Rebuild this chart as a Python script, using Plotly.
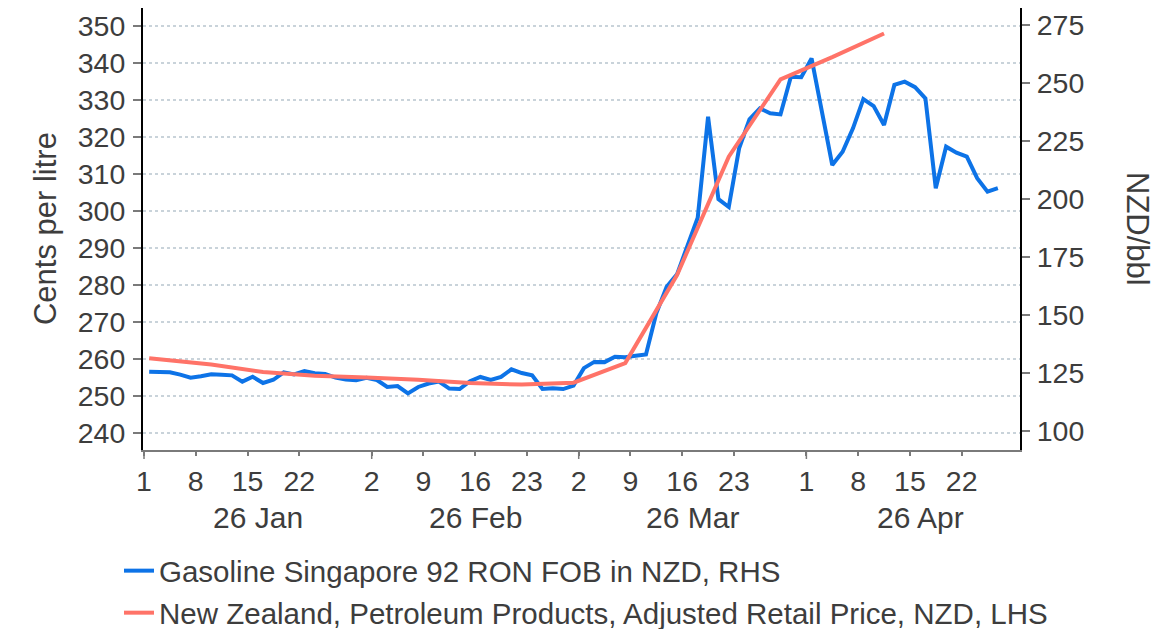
import pandas as pd
import plotly.graph_objects as go

# ---------------- data ----------------
blue_name = "Gasoline Singapore 92 RON FOB in NZD, RHS"
red_name = "New Zealand, Petroleum Products, Adjusted Retail Price, NZD, LHS"

blue_start = "2026-01-01"
blue_values = [
    125.7, 125.5, 125.4, 124.4, 123.1, 123.7, 124.6, 124.4, 124.1, 121.4,
    123.5, 120.8, 122.2, 125.4, 124.5, 125.9, 125.0, 124.7, 123.1, 122.3,
    122.0, 123.0, 122.1, 119.1, 119.5, 116.3, 119.1, 120.6, 121.4, 118.4,
    118.2, 121.6, 123.4, 122.1, 123.4, 126.7, 125.1, 124.1, 118.2, 118.5,
    118.2, 119.7, 127.2, 129.9, 129.8, 132.1, 131.9, 132.5, 133.1, 150.8,
    162.3, 167.6, 180.0, 192.0, 235.5, 200.0, 196.6, 221.9, 234.4, 239.1,
    237.0, 236.5, 252.7, 252.5, 260.6, 237.0, 214.7, 220.4, 230.5, 243.1,
    240.1, 231.9, 249.2, 250.6, 248.2, 243.4, 204.7, 222.6, 220.0, 218.3,
    209.0, 203.2, 204.7,
]

red_dates = [
    "2026-01-01", "2026-01-02", "2026-01-09", "2026-01-16", "2026-01-23",
    "2026-01-30", "2026-02-06", "2026-02-13", "2026-02-20", "2026-02-27",
    "2026-03-06", "2026-03-13", "2026-03-20", "2026-03-27", "2026-04-03",
    "2026-04-10",
]
red_values = [
    260.1, 259.8, 258.4, 256.4, 255.4, 254.9, 254.3, 253.4, 253.0, 253.5,
    258.8, 282.6, 314.6, 335.5, 341.5, 347.9,
]

tick_dates = [
    "2026-01-01", "2026-01-08", "2026-01-15", "2026-01-22",
    "2026-02-02", "2026-02-09", "2026-02-16", "2026-02-23",
    "2026-03-02", "2026-03-09", "2026-03-16", "2026-03-23",
    "2026-04-01", "2026-04-08", "2026-04-15", "2026-04-22",
]
tick_labels = ["1", "8", "15", "22", "2", "9", "16", "23",
               "2", "9", "16", "23", "1", "8", "15", "22"]
month_starts = ["2026-01-01", "2026-02-02", "2026-03-02", "2026-04-01"]
month_label_dates = ["2026-01-16", "2026-02-16", "2026-03-17", "2026-04-16"]
month_labels = ["26 Jan", "26 Feb", "26 Mar", "26 Apr"]

left_ticks = list(range(240, 351, 10))
right_ticks = list(range(100, 276, 25))

# ---------------- styling ----------------
BLUE = "#0D73E7"
RED = "#FF7368"
TXT = "#3d3d3d"
FONT = "Arial, Liberation Sans, sans-serif"

blue_dates = pd.bdate_range(blue_start, periods=len(blue_values)) + pd.Timedelta(hours=12)
red_x = pd.to_datetime(red_dates) + pd.Timedelta(hours=12)

fig = go.Figure()
fig.add_trace(go.Scatter(
    x=blue_dates, y=blue_values, name=blue_name, mode="lines",
    line=dict(color=BLUE, width=4), yaxis="y", legend="legend",
))
fig.add_trace(go.Scatter(
    x=red_x, y=red_values, name=red_name, mode="lines",
    line=dict(color=RED, width=4), yaxis="y2", legend="legend2",
))

legend_common = dict(
    orientation="v", xref="container", yref="container",
    x=0.0948, xanchor="left", yanchor="top",
    font=dict(size=29.5, color=TXT), bgcolor="rgba(0,0,0,0)",
    itemwidth=30,
)

fig.update_layout(
    width=1171, height=629,
    # the page body adds an 8px offset, so margins are reduced by 8px
    margin=dict(l=135, r=159, t=0, b=187, autoexpand=False),
    paper_bgcolor="white", plot_bgcolor="white",
    font=dict(family=FONT, color=TXT, size=28),
    showlegend=True,
    legend=dict(legend_common, y=0.1463),
    legend2=dict(legend_common, y=0.0795),
    xaxis=dict(
        type="date",
        range=["2025-12-31 21:40", "2026-04-29 15:20"],
        rangebreaks=[dict(bounds=["sat", "mon"])],
        tickmode="array", tickvals=tick_dates, ticktext=tick_labels,
        ticks="outside", ticklen=4, tickwidth=1.5, tickcolor="#7a7a7a",
        showline=True, linecolor="#7a7a7a", linewidth=2,
        showgrid=False, zeroline=False,
        tickfont=dict(size=28.5, color=TXT),
        ticklabelstandoff=1,
    ),
    yaxis=dict(
        side="right", range=[91.95, 282.32],
        tickmode="array", tickvals=right_ticks,
        ticks="outside", ticklen=8, tickwidth=1.5, tickcolor="#7a7a7a",
        showline=True, linecolor="black", linewidth=2,
        showgrid=False, zeroline=False,
        tickfont=dict(size=28.5, color=TXT),
        ticklabelstandoff=1,
    ),
    yaxis2=dict(
        overlaying="y", side="left", range=[235.32, 354.78],
        tickmode="array", tickvals=left_ticks,
        ticks="outside", ticklen=8, tickwidth=1.5, tickcolor="#7a7a7a",
        showline=True, linecolor="black", linewidth=2,
        showgrid=True, gridcolor="#C9D3DA", gridwidth=1.5, griddash="dot",
        zeroline=False,
        tickfont=dict(size=28.5, color=TXT),
        ticklabelstandoff=2,
    ),
)

# longer ticks at the start of each month
for d in month_starts:
    fig.add_shape(type="line", xref="x", yref="paper",
                  x0=d, x1=d, y0=0, y1=-9 / 442,
                  line=dict(color="#7a7a7a", width=1.5))

# month labels under the day ticks
for d, lab in zip(month_label_dates, month_labels):
    fig.add_annotation(x=d, xref="x", y=-0.1535, yref="paper",
                       text=lab, showarrow=False, yanchor="middle",
                       xanchor="center", font=dict(size=30, color=TXT))

# axis titles
fig.add_annotation(x=-0.1117, xref="paper", y=0.5, yref="paper",
                   text="Cents per litre", textangle=-90, showarrow=False,
                   xanchor="center", yanchor="middle",
                   font=dict(size=31, color=TXT))
fig.add_annotation(x=1.1345, xref="paper", y=0.5, yref="paper",
                   text="NZD/bbl", textangle=90, showarrow=False,
                   xanchor="center", yanchor="middle",
                   font=dict(size=31, color=TXT))

fig.write_html("out.html")
